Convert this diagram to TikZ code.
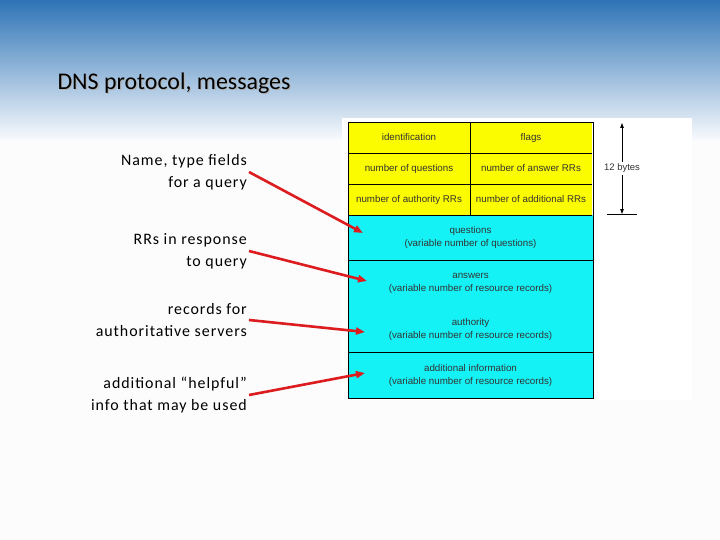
\documentclass[tikz,border=0pt]{standalone}
\usepackage{fontspec}
\setmainfont{Carlito}
\newfontfamily\notefont[LetterSpace=6]{Carlito}
\newfontfamily\tblfont{Liberation Sans}
\usetikzlibrary{arrows.meta,positioning,calc}
\definecolor{gradtop}{RGB}{46,116,182}
\definecolor{gradbot}{RGB}{248,250,253}
\definecolor{pagebg}{RGB}{252,252,253}
\definecolor{tabyellow}{RGB}{252,252,0}
\definecolor{tabcyan}{RGB}{20,242,246}
\definecolor{arrred}{RGB}{220,28,30}

\begin{document}
\begin{tikzpicture}[
  x=1bp, y=-1bp,
  cell/.style={fill=tabyellow, minimum width=122bp, minimum height=31bp,
    inner sep=0pt, outer sep=0pt, align=center, text=black!80,
    font=\tblfont\fontsize{9.8}{13}\selectfont},
  wide/.style={cell, fill=tabcyan, minimum width=245bp, minimum height=46bp},
  note/.style={align=right, anchor=east, inner sep=2bp, font=\notefont\fontsize{16}{22}\selectfont},
  tline/.style={draw=black, line width=0.9bp},
  arr/.style={-{Triangle[length=9bp,width=7bp]}, line width=2.6bp, draw=arrred}
]
\useasboundingbox (0,0) rectangle (720,540);
% slide background
\fill[pagebg] (0,0) rectangle (720,540);
\shade[top color=gradtop, bottom color=gradbot] (0,0) rectangle (720,140);
\fill[white] (342,118) rectangle (692,400);

% title with a soft shadow
\node[anchor=west, font=\fontsize{24}{28}\selectfont, text=black!30] at (55.2,84.2) {DNS protocol, messages};
\node[anchor=west, font=\fontsize{24}{28}\selectfont] (title) at (54,83) {DNS protocol, messages};

% header rows
\node[cell, anchor=north west] (id) at (348,122) {identification};
\node[cell, right=0pt of id] (fl) {flags};
\node[cell, below=0pt of id] (nq) {number of questions};
\node[cell, below=0pt of fl] (nr) {number of answer RRs};
\node[cell, below=0pt of nq] (na) {number of authority RRs};
\node[cell, below=0pt of nr] (nd) {number of additional RRs};
% variable sections
\node[wide, anchor=north west, minimum height=45bp] (qs) at (na.south west) {questions\\(variable number of questions)};
\node[wide, below=0pt of qs] (ans) {answers\\(variable number of resource records)};
\node[wide, below=0pt of ans] (auth) {authority\\(variable number of resource records)};
\node[wide, below=0pt of auth] (add) {additional information\\(variable number of resource records)};

% table rules
\draw[tline] (id.north west) rectangle (add.south east);
\draw[tline] (id.north east) -- (na.south east);
\draw[tline] (id.south west) -- (fl.south east);
\draw[tline] (nq.south west) -- (nr.south east);
\draw[tline] (na.south west) -- (nd.south east);
\draw[tline] (qs.south west) -- (qs.south east);
\draw[tline] (auth.south west) -- (auth.south east);

% 12 bytes span
\coordinate (btop) at ($(fl.north east)+(30,1)$);
\coordinate (bbot) at ($(nd.south east)+(30,-1)$);
\node[fill=white, inner sep=1.5pt, font=\tblfont\fontsize{9.5}{11}\selectfont, text=black!80] (bytes) at ($(btop)!0.5!(bbot)$) {12 bytes};
\draw[-{Triangle[length=5bp,width=3.5bp]}, line width=0.8bp] (bytes) -- (btop);
\draw[-{Triangle[length=5bp,width=3.5bp]}, line width=0.8bp] (bytes) -- (bbot);
\draw[line width=0.8bp] ($(bbot)+(-15,0)$) -- ($(bbot)+(15,0)$);

% notes on the left
\node[note] (lbq) at (249,172) {Name, type fields\\for a query};
\node[note] (lbr) at (249,251) {RRs in response\\to query};
\node[note] (lbs) at (249,320) {records for\\authoritative servers};
\node[note] (lbi) at (249,395) {additional “helpful”\\info that may be used};

\draw[arr] (lbq.east) -- ($(qs.west)+(15,-4.5)$);
\draw[arr] (lbr.east) -- ($(ans.west)+(19,-2)$);
\draw[arr] (lbs.east) -- ($(auth.west)+(17,3)$);
\draw[arr] (lbi.east) -- ($(add.west)+(17,-2)$);
\end{tikzpicture}
\end{document}
